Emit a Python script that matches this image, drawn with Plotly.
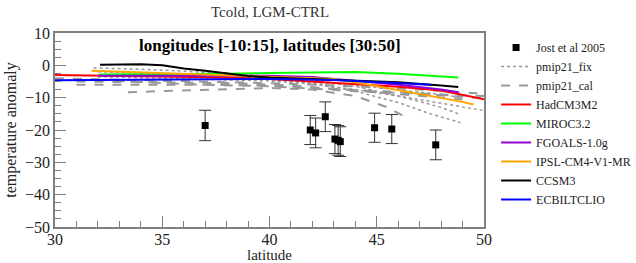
import plotly.graph_objects as go

# Jost et al 2005 proxy data
jost_lat = [37.0, 41.9, 42.15, 42.6, 43.05, 43.2, 43.3, 44.9, 45.7, 47.75]
jost_val = [-18.6, -20.0, -20.9, -15.9, -22.8, -23.2, -23.6, -19.3, -19.7, -24.6]
jost_err = [4.7, 4.5, 4.6, 4.6, 4.5, 4.6, 4.6, 4.5, 4.5, 4.6]

# pmip21_fix (dotted gray)
fix_lat = [
    [31.8, 34, 36, 38, 40, 42, 44, 46, 48, 48.9],
    [32, 35, 38, 40, 42, 44, 46, 47.5, 48.9],
    [32, 34, 38, 40, 42, 44, 46, 48, 50],
    [32, 36, 40, 44, 48, 49],
]
fix_val = [
    [-0.8, -1.2, -1.8, -2.5, -3.3, -4.5, -6.5, -9.5, -13.0, -15.2],
    [-2.0, -2.5, -3.2, -4.0, -5.5, -8.0, -11.5, -15.0, -17.7],
    [-3.5, -3.8, -4.3, -4.8, -5.8, -7.5, -9.5, -11.8, -14.0],
    [-3.0, -3.5, -4.5, -6.2, -9.0, -10.0],
]

# pmip21_cal (dashed gray)
cal_lat = [
    [30, 33, 36, 40, 44, 47, 50],
    [31, 34, 37, 40, 43, 46, 50],
    [33.4, 36, 38, 40, 42, 44, 45.5, 46.5],
    [31, 35, 38, 41, 44, 47, 49],
    [32, 36, 40, 44, 48, 50],
]
cal_val = [
    [-4.0, -4.5, -4.8, -5.5, -6.5, -7.5, -8.8],
    [-6.0, -6.0, -6.0, -6.3, -7.2, -8.3, -10.2],
    [-8.3, -7.8, -7.2, -7.0, -7.5, -9.5, -13.0, -16.6],
    [-5.0, -5.2, -5.5, -6.2, -7.8, -9.5, -10.5],
    [-4.5, -5.8, -6.5, -8.0, -9.0, -9.5],
]

# Models
models = ["HadCM3M2", "MIROC3.2", "FGOALS-1.0g", "IPSL-CM4-V1-MR", "CCSM3", "ECBILTCLIO"]
colors = ["#ff0000", "#00ff00", "#9400d3", "#ffa500", "#000000", "#0000ff"]
model_lat = [
    [30, 32, 34, 36, 38, 40, 42, 44, 46, 48, 50],
    [32.1, 34, 36, 38, 40, 42, 44, 46, 48, 48.8],
    [32, 36, 40, 42, 44, 46, 48, 48.8],
    [31.7, 34, 36, 38, 40, 42, 43, 44, 45, 46, 47, 48, 49, 49.5],
    [32.1, 34, 35, 36, 37, 38, 39, 40, 42, 44, 46, 48, 48.8],
    [30, 35, 40, 43, 46, 47.5],
]
model_val = [
    [-3.0, -3.2, -3.3, -3.5, -3.8, -4.2, -5.0, -5.8, -6.6, -7.8, -10.5],
    [-2.8, -2.8, -2.7, -2.6, -2.4, -2.2, -2.1, -2.6, -3.3, -3.8],
    [-3.2, -3.2, -3.2, -3.6, -4.8, -6.0, -7.5, -8.3],
    [-1.7, -2.2, -2.6, -3.0, -3.4, -3.9, -4.2, -5.2, -6.4, -7.5, -8.7, -10.0, -11.3, -12.1],
    [0.2, 0.3, 0.0, -1.0, -1.7, -2.5, -3.3, -3.8, -4.3, -4.6, -5.2, -6.2, -6.7],
    [-4.6, -4.4, -4.2, -4.5, -5.5, -6.0],
]

xticks = [30, 35, 40, 45, 50]
yticks = [10, 0, -10, -20, -30, -40, -50]

font = "Liberation Serif, Times New Roman, serif"
gray = "#999999"
txt = "#222222"

fig = go.Figure()

for i, (la, va) in enumerate(zip(fix_lat, fix_val)):
    fig.add_trace(go.Scatter(x=la, y=va, mode="lines", name="pmip21_fix",
                             line=dict(color=gray, width=1.5, dash="dot"),
                             showlegend=(i == 0), legendrank=2))
for i, (la, va) in enumerate(zip(cal_lat, cal_val)):
    fig.add_trace(go.Scatter(x=la, y=va, mode="lines", name="pmip21_cal",
                             line=dict(color=gray, width=2, dash="dash"),
                             showlegend=(i == 0), legendrank=3))
for i, (m, c) in enumerate(zip(models, colors)):
    fig.add_trace(go.Scatter(x=model_lat[i], y=model_val[i], mode="lines", name=m,
                             line=dict(color=c, width=2), legendrank=4 + i))

fig.add_trace(go.Scatter(x=jost_lat, y=jost_val, mode="markers", name="Jost et al 2005",
                         marker=dict(symbol="square", size=7, color="black"),
                         error_y=dict(type="data", array=jost_err, visible=True,
                                      color="#333333", thickness=1, width=6),
                         legendrank=1))

fig.add_annotation(text="<b>longitudes [-10:15], latitudes [30:50]</b>",
                   xref="paper", yref="paper", x=0.5, y=0.995, yanchor="top",
                   showarrow=False, font=dict(family=font, size=17, color="black"))

axis_common = dict(showgrid=False, zeroline=False, showline=True, linecolor="#808080",
                   linewidth=1.5, mirror=True, ticks="inside", tickcolor="#808080",
                   automargin=False,
                   tickfont=dict(family=font, size=16, color=txt))

fig.update_xaxes(range=[30, 50], tickvals=xticks, ticklen=11, ticklabelstandoff=-3,
                 minor=dict(dtick=1, ticks="inside", ticklen=6, tickcolor="#808080"),
                 title=dict(text="latitude", font=dict(family=font, size=15, color=txt),
                            standoff=0),
                 **axis_common)
fig.update_yaxes(range=[-50, 10], tickvals=yticks, ticklen=11,
                 minor=dict(dtick=2.5, ticks="inside", ticklen=6, tickcolor="#808080"),
                 title=dict(text="temperature anomaly", font=dict(family=font, size=16, color=txt),
                            standoff=4),
                 **axis_common)

fig.update_layout(
    width=636, height=263,
    margin=dict(l=55, r=152, t=33, b=36),
    paper_bgcolor="white", plot_bgcolor="white",
    title=dict(text="Tcold, LGM-CTRL", x=(270 / 636), xanchor="center", y=1.0, yanchor="top",
               pad=dict(t=6), automargin=False,
               font=dict(family=font, size=15, color="#333333")),
    legend=dict(xref="container", x=0.78, y=1.0, xanchor="left", yanchor="top",
                font=dict(family=font, size=12, color=txt),
                tracegroupgap=0, itemwidth=30, bgcolor="rgba(0,0,0,0)"),
    showlegend=True,
)

fig.write_html("out.html", config={"displayModeBar": False},
               post_script="document.body.style.margin='0';document.body.style.overflow='hidden';")
